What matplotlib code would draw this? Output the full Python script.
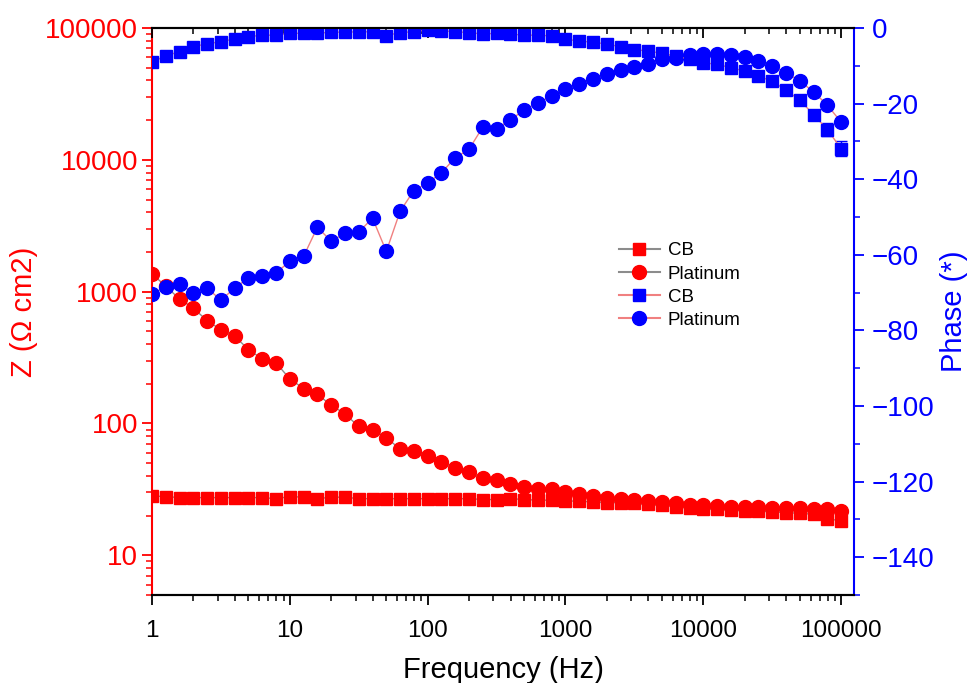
import numpy as np
import matplotlib
matplotlib.use("Agg")
import matplotlib.pyplot as plt
from matplotlib import ticker
from matplotlib.lines import Line2D

plt.rcParams['font.family'] = ['Liberation Sans', 'DejaVu Sans']

# Frequency sweep (Hz), 10 points per decade
freq = [1, 1.259, 1.585, 1.995, 2.512, 3.162, 3.981, 5.012, 6.310, 7.943,
        10, 12.59, 15.85, 19.95, 25.12, 31.62, 39.81, 50.12, 63.10, 79.43,
        100, 125.9, 158.5, 199.5, 251.2, 316.2, 398.1, 501.2, 631.0, 794.3,
        1000, 1259, 1585, 1995, 2512, 3162, 3981, 5012, 6310, 7943,
        10000, 12589, 15849, 19953, 25119, 31623, 39811, 50119, 63096, 79433,
        100000]

# Impedance modulus (ohm cm2)
z_cb = [28.2, 27.9, 27.4, 27.4, 27.4, 27.4, 27.4, 27.4, 27.4, 26.9,
        27.9, 27.6, 26.9, 27.6, 27.6, 26.9, 26.9, 26.9, 26.9, 26.9,
        26.9, 26.9, 26.9, 26.9, 26.5, 26.5, 26.9, 26.5, 26.2, 26.2,
        25.8, 25.8, 25.3, 25.1, 25.1, 24.8, 24.3, 23.9, 23.4, 23.0,
        22.6, 22.3, 22.0, 21.7, 21.7, 21.3, 21.1, 20.8, 20.5, 19.0,
        18.2]
z_pt = [1369, 1097, 880, 751, 602, 515, 459, 364, 309, 288,
        218, 184, 166, 138, 118, 95, 90, 78, 64, 62,
        56.5, 50.9, 46.1, 42.7, 38.3, 37.2, 34.5, 33.1, 32.0, 31.6,
        30.4, 29.0, 28.2, 27.4, 26.6, 26.2, 25.6, 25.3, 24.8, 24.2,
        23.9, 23.6, 23.4, 23.2, 23.1, 23.0, 23.0, 22.8, 22.6, 22.3,
        21.7]

# Phase angle (deg)
ph_cb = [-9.1, -7.3, -6.3, -4.9, -4.2, -3.6, -2.9, -2.3, -1.9, -1.9,
         -1.4, -1.4, -1.4, -1.1, -1.1, -1.0, -1.0, -2.0, -1.2, -1.0,
         -0.5, -0.7, -1.0, -1.2, -1.6, -1.4, -1.6, -1.9, -1.9, -2.1,
         -3.0, -3.4, -3.8, -4.2, -5.0, -5.7, -6.1, -6.7, -7.4, -8.3,
         -9.2, -9.6, -10.5, -11.4, -12.7, -14.1, -16.4, -19.1, -22.9, -26.9,
         -31.9]
ph_cb_err = [0] * 46 + [0.5, 0.6, 1.0, 1.8, 2.0]
ph_pt = [-70.4, -68.4, -67.7, -70.1, -68.8, -72.0, -68.8, -66.1, -65.5, -64.8,
         -61.7, -60.4, -52.7, -56.4, -54.3, -54.0, -50.3, -59.1, -48.5, -43.0,
         -41.0, -38.3, -34.3, -32.1, -26.2, -26.6, -24.3, -21.7, -19.8, -18.0,
         -16.2, -14.7, -13.4, -12.2, -11.1, -10.3, -9.4, -8.3, -7.9, -7.2,
         -7.0, -7.0, -7.2, -7.8, -8.7, -10.1, -11.8, -14.0, -16.9, -20.4,
         -24.9]

RED = '#FF0000'
BLUE = '#0000FF'
GREY_LINE = '#8C8C8C'
PINK_LINE = '#F08080'
SQ_MS = 9
CI_MS = 10

fig = plt.figure(figsize=(9.69, 6.83), dpi=100)
ax = fig.add_axes([152 / 969, 1 - 595 / 683, 702 / 969, 567 / 683])
ax2 = ax.twinx()

# |Z| on the left log axis
ax.plot(freq, z_cb, color=GREY_LINE, lw=1, marker='s', ms=SQ_MS,
        mfc=RED, mec=RED)
ax.plot(freq, z_pt, color=GREY_LINE, lw=1, marker='o', ms=CI_MS,
        mfc=RED, mec=RED)

# phase on the right axis
ax2.errorbar(freq, ph_cb, yerr=ph_cb_err, color=PINK_LINE, lw=1, marker='s',
             ms=SQ_MS, mfc=BLUE, mec=BLUE, ecolor=BLUE, elinewidth=1,
             capsize=4, capthick=1)
ax2.plot(freq, ph_pt, color=PINK_LINE, lw=1, marker='o', ms=CI_MS,
         mfc=BLUE, mec=BLUE)

fmt = ticker.FuncFormatter(lambda v, p: f'{v:g}')

ax.set_xscale('log')
ax.set_yscale('log')
ax.set_xlim(1, 1.24e5)
ax.set_ylim(5, 1e5)
ax2.set_ylim(-150, 0)

ax.xaxis.set_major_locator(ticker.LogLocator(base=10, numticks=10))
ax.xaxis.set_minor_locator(ticker.LogLocator(base=10, subs=range(2, 10), numticks=20))
ax.xaxis.set_major_formatter(fmt)
ax.xaxis.set_minor_formatter(ticker.NullFormatter())
ax.yaxis.set_major_locator(ticker.LogLocator(base=10, numticks=10))
ax.yaxis.set_minor_locator(ticker.LogLocator(base=10, subs=range(2, 10), numticks=20))
ax.yaxis.set_major_formatter(fmt)
ax.yaxis.set_minor_formatter(ticker.NullFormatter())
ax2.yaxis.set_major_locator(ticker.MultipleLocator(20))
ax2.yaxis.set_minor_locator(ticker.MultipleLocator(10))

# spines
for sp in ax.spines.values():
    sp.set_linewidth(1.5)
for sp in ax2.spines.values():
    sp.set_linewidth(1.5)
ax.spines['left'].set_color(RED)
ax.spines['right'].set_visible(False)
ax2.spines['left'].set_visible(False)
ax2.spines['right'].set_color(BLUE)

ax.tick_params(axis='x', which='major', direction='out', length=7, width=1.3,
               labelsize=17.5, pad=11)
ax.tick_params(axis='x', which='minor', direction='out', length=4, width=1.1)
ax.tick_params(axis='y', which='major', direction='out', length=7, width=1.3,
               color=RED, labelcolor=RED, labelsize=20, pad=3)
ax.tick_params(axis='y', which='minor', direction='out', length=4, width=1.1,
               color=RED)
ax2.tick_params(axis='y', which='major', direction='out', length=7, width=1.3,
                color=BLUE, labelcolor=BLUE, labelsize=20, pad=6)
ax2.tick_params(axis='y', which='minor', direction='out', length=4, width=1.1,
                color=BLUE)

# inward ticks along the top edge
ax2.xaxis.set_visible(True)
ax2.tick_params(axis='x', which='both', top=True, bottom=False,
                labeltop=False, labelbottom=False, direction='in')
ax2.tick_params(axis='x', which='major', length=7, width=1.3)
ax2.tick_params(axis='x', which='minor', length=4, width=1.1)

ax.set_xlabel('Frequency (Hz)', fontsize=21, labelpad=10)
ax.set_ylabel('Z (\u03a9 cm2)', fontsize=21, color=RED, labelpad=5)
ax2.set_ylabel('Phase (*)', fontsize=21, color=BLUE, labelpad=4)

handles = [
    Line2D([], [], color=GREY_LINE, lw=1.5, marker='s', ms=SQ_MS, mfc=RED, mec=RED),
    Line2D([], [], color=GREY_LINE, lw=1.5, marker='o', ms=CI_MS, mfc=RED, mec=RED),
    Line2D([], [], color=PINK_LINE, lw=1.5, marker='s', ms=SQ_MS, mfc=BLUE, mec=BLUE),
    Line2D([], [], color=PINK_LINE, lw=1.5, marker='o', ms=CI_MS, mfc=BLUE, mec=BLUE),
]
labels = ['CB', 'Platinum', 'CB', 'Platinum']
ax2.legend(handles, labels, loc='upper left', bbox_to_anchor=(0.665, 0.622),
           bbox_transform=ax2.transAxes, frameon=False, fontsize=13.5,
           handlelength=2.2, handletextpad=0.4, labelspacing=0.32,
           borderpad=0, borderaxespad=0)

fig.savefig('out.png', dpi=100)
